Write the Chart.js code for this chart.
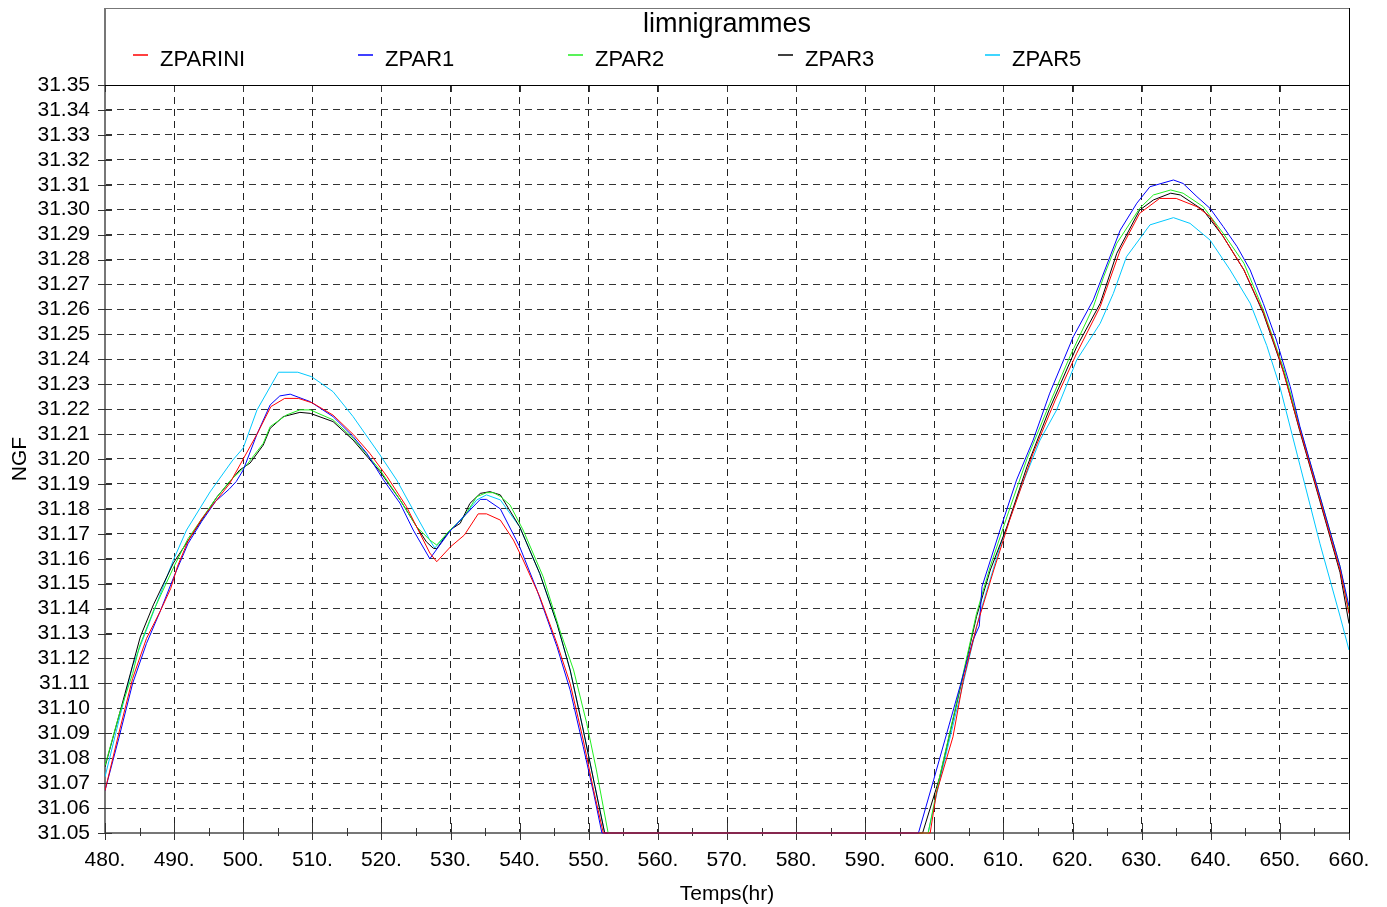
<!DOCTYPE html>
<html>
<head>
<meta charset="utf-8">
<script src="https://cdn.jsdelivr.net/npm/chart.js@4/dist/chart.umd.min.js"></script>
<style>
  html, body { margin: 0; padding: 0; background: #fff; }
  #wrap { width: 1387px; height: 907px; }
</style>
</head>
<body>
<div id="wrap"><canvas id="chart"></canvas></div>
<script>
// --- données (temps en heures, cote NGF) ---
const seriesNames = ['ZPARINI', 'ZPAR1', 'ZPAR2', 'ZPAR3', 'ZPAR5'];
const seriesColors = ['#ff0000', '#0000ff', '#22ee22', '#000000', '#00c8ff'];

const tIni = [480, 482, 484, 486, 488, 489.5, 490.5, 492, 494, 496, 498, 500, 502, 504, 506, 508, 510, 513, 516, 518.3, 520.8, 523.6, 525.6, 527, 528, 530, 532, 534, 535.2, 537.2, 539.1, 540.5, 542.9, 545.4, 547.3, 549.2, 550.7, 552.1, 599.4, 600.3, 602.7, 604.2, 606.1, 608.6, 610.9, 614.3, 617.5, 620.6, 624, 626.9, 629.7, 632.6, 635, 638, 639.9, 641.8, 644.8, 647.6, 650, 652.9, 655.8, 658.7, 660];
const zIni = [31.067, 31.090, 31.112, 31.128, 31.139, 31.148, 31.157, 31.167, 31.176, 31.183, 31.190, 31.200, 31.210, 31.221, 31.2243, 31.2243, 31.2225, 31.2176, 31.2096, 31.2023, 31.193, 31.181, 31.170, 31.1623, 31.1588, 31.1648, 31.1695, 31.178, 31.178, 31.1755, 31.1675, 31.1595, 31.1448, 31.126, 31.110, 31.0873, 31.0672, 31.05, 31.05, 31.066, 31.0886, 31.1114, 31.1327, 31.1555, 31.1755, 31.2023, 31.2236, 31.2424, 31.2611, 31.2838, 31.2985, 31.3045, 31.3045, 31.3012, 31.2972, 31.2892, 31.2758, 31.259, 31.2397, 31.2116, 31.1836, 31.1555, 31.138];

const t1 = [480, 482, 484, 486, 488, 490, 492, 494, 496, 498, 499, 500, 502, 503.9, 505.3, 506.8, 509.7, 513, 515.9, 517.9, 520.3, 522.7, 524.6, 527, 529.9, 532.3, 534.3, 535.2, 537.2, 540, 542.5, 545.4, 547.3, 549.2, 550.7, 551.9, 597.7, 599.9, 603.7, 605.6, 606.5, 606.9, 609.5, 611.9, 614.3, 616.7, 620.1, 623, 626.9, 629.3, 631.2, 634.6, 636, 638, 639.9, 641.8, 643.8, 645.7, 647.6, 649.5, 651.5, 652.9, 655.8, 658.7, 660];
const z1 = [31.067, 31.088, 31.110, 31.126, 31.139, 31.153, 31.166, 31.175, 31.183, 31.188, 31.191, 31.1956, 31.210, 31.2217, 31.2253, 31.226, 31.223, 31.217, 31.209, 31.2022, 31.1916, 31.1822, 31.1715, 31.160, 31.171, 31.178, 31.1838, 31.1838, 31.180, 31.1648, 31.1475, 31.1247, 31.1074, 31.0846, 31.066, 31.05, 31.05, 31.0713, 31.1087, 31.1274, 31.133, 31.1488, 31.1715, 31.1916, 31.2076, 31.2264, 31.249, 31.2638, 31.2918, 31.3026, 31.3092, 31.3119, 31.3105, 31.3052, 31.3005, 31.2932, 31.2852, 31.2758, 31.2624, 31.2477, 31.229, 31.213, 31.185, 31.157, 31.141];

const t2 = [480, 482, 484, 485, 487, 490, 492, 494, 496, 498, 500.5, 502.9, 503.9, 506.3, 508.2, 509.7, 513, 515.9, 519.8, 522.7, 525.1, 527, 528, 529.9, 531.8, 533.8, 535.2, 536.2, 537.2, 538.6, 540.5, 543.4, 545.8, 547.8, 549.7, 551.1, 552.8, 599.1, 600.8, 603.7, 606.1, 608.1, 610.5, 613.4, 616.7, 619.6, 623, 624.5, 626.4, 629.7, 631.7, 634.2, 636, 638.9, 641.8, 644.8, 647.6, 650.6, 652.9, 655.8, 658.7, 660];
const z2 = [31.077, 31.097, 31.114, 31.125, 31.139, 31.157, 31.168, 31.176, 31.184, 31.191, 31.1976, 31.2063, 31.213, 31.2177, 31.2197, 31.2197, 31.2157, 31.2083, 31.1956, 31.1836, 31.1728, 31.1675, 31.1655, 31.1715, 31.1762, 31.1849, 31.1865, 31.1865, 31.185, 31.1816, 31.1715, 31.1528, 31.1314, 31.1154, 31.094, 31.0753, 31.05, 31.05, 31.073, 31.108, 31.138, 31.157, 31.1768, 31.200, 31.2223, 31.241, 31.261, 31.2731, 31.2865, 31.3005, 31.3059, 31.3079, 31.3066, 31.3012, 31.2905, 31.2785, 31.2598, 31.2357, 31.2125, 31.185, 31.157, 31.139];

const t3 = [480, 482.9, 485.1, 487, 489.9, 493.7, 496.2, 499.5, 501, 502.9, 503.9, 505.8, 508.2, 509.7, 513, 515.9, 519.8, 522.7, 525.1, 526.5, 527.5, 528, 529.9, 531.4, 532.8, 534.3, 535.7, 537.2, 540, 542.9, 545.4, 547.3, 549.2, 550.9, 552.3, 598.3, 600.8, 603.7, 606.1, 608.1, 610.5, 613.4, 616.7, 620.6, 624, 626.4, 629.7, 631.7, 634.2, 635.6, 638.9, 641.8, 644.8, 647.6, 650.6, 652.9, 655.8, 658.7, 660];
const z3 = [31.0765, 31.106, 31.1286, 31.1415, 31.1583, 31.1743, 31.1848, 31.1956, 31.1984, 31.2056, 31.2123, 31.217, 31.2187, 31.2183, 31.215, 31.2076, 31.1949, 31.1836, 31.1728, 31.1668, 31.1642, 31.164, 31.1715, 31.1742, 31.1822, 31.1862, 31.1869, 31.1856, 31.1728, 31.1541, 31.134, 31.1154, 31.0913, 31.0686, 31.05, 31.05, 31.0726, 31.1074, 31.1368, 31.1555, 31.1728, 31.1969, 31.2203, 31.245, 31.2624, 31.2825, 31.2998, 31.3039, 31.3066, 31.3059, 31.2998, 31.2892, 31.2758, 31.2584, 31.2344, 31.211, 31.183, 31.1545, 31.134];

const t5 = [480, 482, 484, 487.5, 489.9, 491.8, 495.2, 498.5, 500, 502, 505.1, 507.9, 509.9, 513, 515.9, 519.8, 522.2, 524.6, 527, 527.7, 529.9, 532.3, 533.8, 535.2, 537.2, 540, 542.9, 545.4, 547.3, 549.2, 550.9, 552.3, 599.1, 600.8, 603.7, 606.6, 609.5, 612.4, 615.3, 617.7, 620.6, 624, 625.9, 627.8, 631.2, 634.6, 637, 639.9, 642.8, 645.7, 648.1, 650, 652.9, 655.8, 658.7, 660];
const z5 = [31.0725, 31.095, 31.117, 31.1422, 31.1595, 31.1715, 31.1868, 31.1996, 31.2044, 31.2197, 31.2348, 31.2348, 31.233, 31.227, 31.217, 31.2016, 31.1916, 31.1795, 31.1675, 31.1643, 31.171, 31.1783, 31.1836, 31.1856, 31.1836, 31.1728, 31.1541, 31.134, 31.1154, 31.0913, 31.0686, 31.05, 31.05, 31.0713, 31.1047, 31.1381, 31.1648, 31.1876, 31.2076, 31.2197, 31.2397, 31.2544, 31.2664, 31.2811, 31.2939, 31.2968, 31.2945, 31.2878, 31.2758, 31.2625, 31.2455, 31.229, 31.1975, 31.166, 31.137, 31.1234];

const seriesTimes = [tIni, t1, t2, t3, t5];
const seriesValues = [zIni, z1, z2, z3, z5];

// axes
const xMin = 480, xMax = 660, xStep = 10;
const yMin = 31.05, yMax = 31.35, yStep = 0.01;
const chartTitle = 'limnigrammes';
const xTitle = 'Temps(hr)';
const yTitle = 'NGF';

const FONT = 'Liberation Sans, Arial, Helvetica, sans-serif';

// axes gauche/bas et graduations, sous les courbes
const axesPlugin = {
    id: 'axes',
    beforeDatasetsDraw(chart) {
        const ctx = chart.ctx;
        const a = chart.chartArea;
        const xs = chart.scales.x;
        const ys = chart.scales.y;
        ctx.save();

        ctx.strokeStyle = '#777';
        ctx.lineWidth = 2;
        ctx.beginPath();
        ctx.moveTo(a.left, 8);
        ctx.lineTo(a.left, a.bottom);
        ctx.moveTo(a.left, a.bottom);
        ctx.lineTo(a.right, a.bottom);
        ctx.stroke();

        ctx.lineWidth = 1;
        ctx.strokeStyle = '#333';
        ctx.beginPath();
        for (let v = yMin; v <= yMax + 1e-9; v += yStep) {
            const py = Math.round(ys.getPixelForValue(v)) + 0.5;
            ctx.moveTo(a.left - 7, py);
            ctx.lineTo(a.left + 7, py);
        }
        for (let t = xMin; t <= xMax; t += xStep / 2) {
            const px = Math.round(xs.getPixelForValue(t)) + 0.5;
            const major = (t % xStep) === 0;
            ctx.moveTo(px, a.bottom + (major ? 7 : 3));
            ctx.lineTo(px, a.bottom - (major ? 10 : 5));
            if (major) {
                ctx.moveTo(px, a.top);
                ctx.lineTo(px, a.top + 7);
            }
        }
        ctx.stroke();
        ctx.restore();
    }
};

// cadre et légende
const framePlugin = {
    id: 'frame',
    afterDraw(chart) {
        const ctx = chart.ctx;
        const a = chart.chartArea;
        ctx.save();

        ctx.strokeStyle = '#777';
        ctx.lineWidth = 1;
        ctx.strokeRect(a.left + 0.5, 8.5, a.right - a.left, a.top - 8);

        ctx.fillStyle = '#000';
        ctx.font = '27px ' + FONT;
        ctx.textAlign = 'center';
        ctx.textBaseline = 'alphabetic';
        ctx.fillText(chartTitle, (a.left + a.right) / 2, 32);

        const legendX = [133, 358, 568, 778, 985];
        ctx.font = '22px ' + FONT;
        ctx.textAlign = 'left';
        seriesNames.forEach((name, i) => {
            ctx.strokeStyle = seriesColors[i];
            ctx.lineWidth = 1.5;
            ctx.beginPath();
            ctx.moveTo(legendX[i], 55);
            ctx.lineTo(legendX[i] + 15, 55);
            ctx.stroke();
            ctx.fillStyle = '#000';
            ctx.fillText(name, legendX[i] + 27, 66);
        });

        // bords haut et droit
        ctx.strokeStyle = '#000';
        ctx.lineWidth = 1;
        ctx.beginPath();
        ctx.moveTo(a.left, Math.round(a.top) + 0.5);
        ctx.lineTo(a.right, Math.round(a.top) + 0.5);
        ctx.moveTo(Math.round(a.right) + 0.5, 8);
        ctx.lineTo(Math.round(a.right) + 0.5, a.bottom);
        ctx.stroke();
        ctx.restore();
    }
};

const datasets = seriesNames.map((name, i) => ({
    label: name,
    data: seriesTimes[i].map((t, j) => ({ x: t, y: seriesValues[i][j] })),
    borderColor: seriesColors[i],
    borderWidth: 1,
    pointRadius: 0,
    tension: 0,
    fill: false,
    clip: { left: 0, top: 0, right: 0, bottom: 2 }
}));

new Chart(document.getElementById('chart'), {
    type: 'line',
    data: { datasets: datasets },
    options: {
        responsive: true,
        maintainAspectRatio: false,
        animation: false,
        layout: { padding: { top: 85, right: 38, left: 0, bottom: 0 } },
        plugins: { legend: { display: false }, title: { display: false }, tooltip: { enabled: false } },
        scales: {
            x: {
                type: 'linear',
                min: xMin, max: xMax,
                afterFit(scale) { scale.height = 74; },
                ticks: {
                    stepSize: xStep,
                    autoSkip: false,
                    color: '#000',
                    font: { family: FONT, size: 21 },
                    padding: 15,
                    maxRotation: 0,
                    callback: v => v + '.'
                },
                grid: { color: '#222', lineWidth: 1, drawTicks: false },
                border: { display: false, dash: [7, 5] },
                title: { display: true, text: xTitle, color: '#000', font: { family: FONT, size: 21 }, padding: { top: 0, bottom: 0 } }
            },
            y: {
                min: yMin, max: yMax,
                afterFit(scale) { scale.width = 105; },
                ticks: {
                    stepSize: yStep,
                    autoSkip: false,
                    color: '#000',
                    font: { family: FONT, size: 21 },
                    padding: 15,
                    callback: v => Number(v).toFixed(2)
                },
                grid: { color: '#333', lineWidth: 1, drawTicks: false },
                border: { display: false, dash: [7, 5] },
                title: { display: true, text: yTitle, color: '#000', font: { family: FONT, size: 21 }, padding: { top: 8, bottom: 0 } }
            }
        }
    },
    plugins: [axesPlugin, framePlugin]
});
</script>
</body>
</html>
